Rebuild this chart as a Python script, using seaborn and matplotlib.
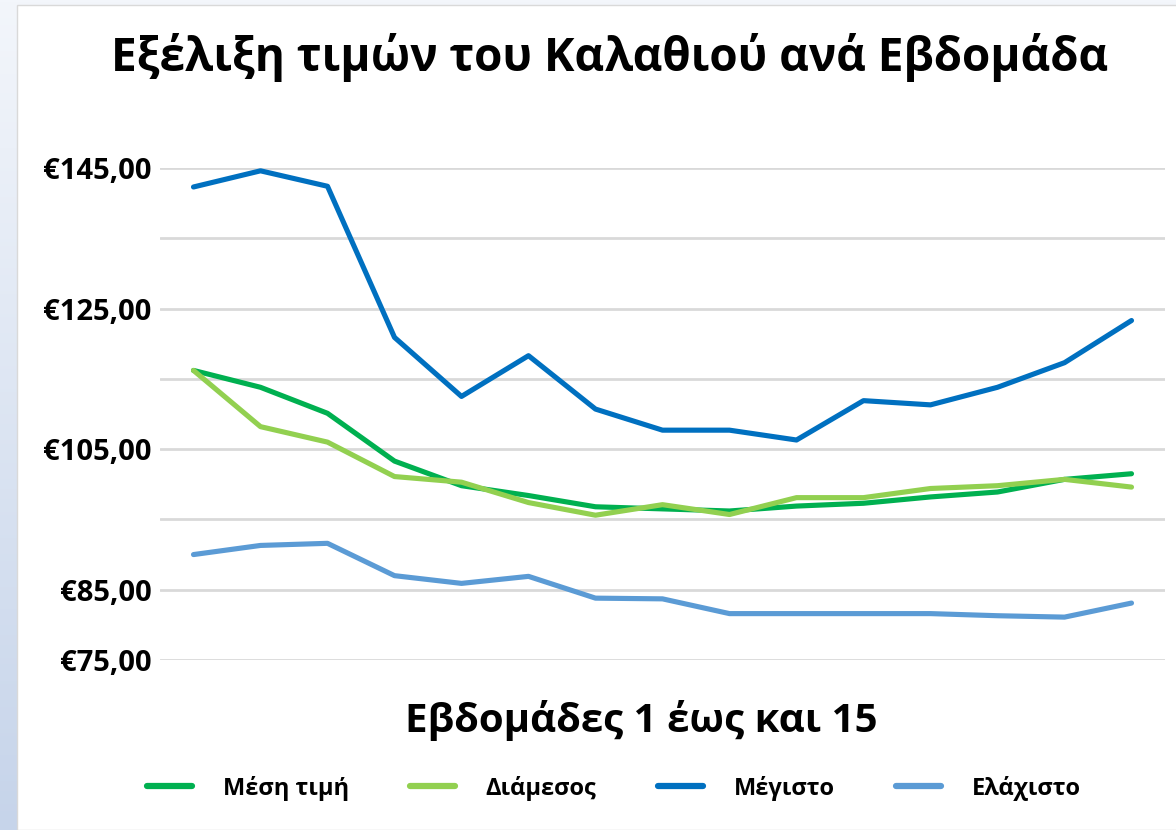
import numpy as np
import pandas as pd
import seaborn as sns
import matplotlib
matplotlib.use('agg')
import matplotlib.pyplot as plt
from matplotlib.patches import Rectangle

# weekly basket prices
weeks = list(range(1, 16))
mean_price = [116.2, 113.8, 110.1, 103.3, 99.8, 98.4, 96.8, 96.5, 96.2, 96.9, 97.3, 98.2, 98.9, 100.7, 101.5]
median_price = [116.2, 108.2, 106.0, 101.1, 100.3, 97.4, 95.6, 97.1, 95.7, 98.1, 98.1, 99.4, 99.8, 100.7, 99.6]
max_price = [142.3, 144.6, 142.4, 120.9, 112.5, 118.3, 110.7, 107.7, 107.7, 106.3, 111.9, 111.3, 113.8, 117.3, 123.3]
min_price = [90.0, 91.3, 91.6, 87.0, 85.9, 86.9, 83.8, 83.7, 81.6, 81.6, 81.6, 81.6, 81.3, 81.1, 83.1]

series_names = ['Μέση τιμή', 'Διάμεσος', 'Μέγιστο', 'Ελάχιστο']
series_colors = ['#00b050', '#92d050', '#0070c0', '#5b9bd5']

y_grid = [75, 85, 95, 105, 115, 125, 135, 145]
y_labelled = [75, 85, 105, 125, 145]

df = pd.DataFrame({
    'week': weeks * 4,
    'price': mean_price + median_price + max_price + min_price,
    'series': np.repeat(series_names, len(weeks)),
})

sns.set_theme(style="white")
plt.rcParams['font.family'] = ['Open Sans', 'DejaVu Sans']
plt.rcParams['text.color'] = 'black'
plt.rcParams['ytick.color'] = 'black'

fig = plt.figure(figsize=(11.76, 8.3), dpi=100)

# light blue frame on the left / top, white card on top of it
bg = fig.add_axes([0, 0, 1, 1], zorder=-10)
grad = np.linspace(0, 1, 256).reshape(-1, 1)
bg.imshow(grad, aspect='auto', cmap=matplotlib.colors.LinearSegmentedColormap.from_list(
    'bgc', ['#f3f6fb', '#c6d4ea']), extent=[0, 1, 0, 1])
bg.add_patch(Rectangle((17 / 1176, 0), 1, 1 - 5 / 830, facecolor='white',
                       edgecolor='#d9d9d9', linewidth=1))
bg.set_xlim(0, 1)
bg.set_ylim(0, 1)
bg.axis('off')

ax = fig.add_axes([160 / 1176, 1 - 660 / 830, 1005 / 1176, 492 / 830])
ax.patch.set_alpha(0)

palette = dict(zip(series_names, series_colors))
sns.lineplot(data=df, x='week', y='price', hue='series', hue_order=series_names,
             palette=palette, linewidth=3.7, ax=ax, clip_on=False, zorder=3)

ax.set_xlim(0.5, 15.5)
ax.set_ylim(75, 145)
ax.set_yticks(y_grid)
ax.set_yticklabels(['€{:.2f}'.format(v).replace('.', ',') if v in y_labelled else ''
                    for v in y_grid], fontsize=21, fontweight='bold')
ax.tick_params(axis='y', length=0, pad=6, labelcolor='black')
ax.set_xticks([])
ax.grid(axis='y', color='#d9d9d9', linewidth=2)
ax.set_axisbelow(True)
for s in ax.spines.values():
    s.set_visible(False)
ax.set_xlabel('')
ax.set_ylabel('')

fig.text(0.518, 1 - 58 / 830, 'Εξέλιξη τιμών του Καλαθιού ανά Εβδομάδα',
         ha='center', va='center', fontsize=33, fontweight='bold', color='black')
fig.text(0.545, 1 - 720 / 830, 'Εβδομάδες 1 έως και 15',
         ha='center', va='center', fontsize=29, fontweight='bold', color='black')

handles, labels = ax.get_legend_handles_labels()
ax.get_legend().remove()
leg = fig.legend(handles, labels, loc='center', bbox_to_anchor=(0.522, 1 - 788 / 830),
                 ncol=4, frameon=False, handlelength=1.9, columnspacing=2.6,
                 handletextpad=1.3, prop={'size': 17, 'weight': 'bold'})
for line in leg.get_lines():
    line.set_linewidth(4.5)
for t in leg.get_texts():
    t.set_color('black')

fig.savefig('out.png', dpi=100)
